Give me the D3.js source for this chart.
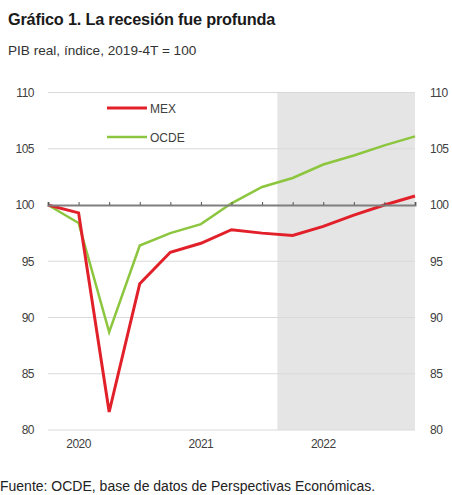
<!DOCTYPE html>
<html><head><meta charset="utf-8">
<script src="https://cdn.jsdelivr.net/npm/d3@7"></script>
<style>
html,body{margin:0;padding:0;background:#fff;}
svg{display:block;}
</style></head>
<body>
<script>
const quarters = ["2019T4","2020T1","2020T2","2020T3","2020T4","2021T1","2021T2","2021T3","2021T4","2022T1","2022T2","2022T3","2022T4"];
const mex  = [100, 99.3, 81.6, 93.0, 95.8, 96.6, 97.8, 97.5, 97.3, 98.1, 99.1, 100.0, 100.8];
const ocde = [100, 98.4, 88.7, 96.4, 97.5, 98.3, 100.15, 101.6, 102.4, 103.6, 104.4, 105.3, 106.1];
const yTicks = [80, 85, 90, 95, 100, 105, 110];
const yearLabels = [{label:"2020", q:"2020T1"},{label:"2021", q:"2021T1"},{label:"2022", q:"2022T1"}];
const projStart = 7.5; // projection shading starts between 2021T3 and 2021T4
const seriesNames = ["MEX","OCDE"];
const colors = {MEX:"#e2202a", OCDE:"#8cc63e"};

const W=452, H=495;
const svg = d3.select("body").append("svg").attr("width",W).attr("height",H);
const pL=48, pR=415, pT=92.5, pB=430;

const x = d3.scaleLinear().domain([0, quarters.length-1]).range([pL,pR]);
const y = d3.scaleLinear().domain([80,110]).range([pB,pT]);

const fontTxt = "'Liberation Sans',Arial,sans-serif";
// title
svg.append("text").attr("x",8).attr("y",25)
  .attr("font-family",fontTxt).attr("font-weight","bold").attr("font-size",16.3).attr("fill","#1a1a1a")
  .attr("letter-spacing","-0.2")
  .text("Gráfico 1. La recesión fue profunda");
svg.append("text").attr("x",8).attr("y",55)
  .attr("font-family",fontTxt).attr("font-size",13.6).attr("fill","#333")
  .text("PIB real, índice, 2019-4T = 100");

// shading
svg.append("rect").attr("x",x(projStart)).attr("y",pT)
  .attr("width",x(quarters.length-1)-x(projStart)).attr("height",pB-pT)
  .attr("fill","#e5e5e5");

// gridlines
svg.append("g").selectAll("line").data(yTicks.filter(d=>d!==100)).join("line")
  .attr("x1",pL).attr("x2",pR).attr("y1",d=>y(d)).attr("y2",d=>y(d))
  .attr("stroke","#d9d9d9").attr("stroke-width",1);

// left and right axes (labels only)
const fontAx = "'Liberation Sans',Arial,sans-serif";
const yl = svg.append("g").attr("transform",`translate(${pL},0)`)
  .call(d3.axisLeft(y).tickValues(yTicks).tickSize(0).tickPadding(14));
yl.select(".domain").remove();
yl.selectAll("text").attr("font-family",fontAx).attr("font-size",12).attr("fill","#404040").attr("letter-spacing","-0.5");
const yr = svg.append("g").attr("transform",`translate(${pR},0)`)
  .call(d3.axisRight(y).tickValues(yTicks).tickSize(0).tickPadding(15));
yr.select(".domain").remove();
yr.selectAll("text").attr("font-family",fontAx).attr("font-size",12).attr("fill","#404040").attr("letter-spacing","-0.5");

// lines
const line = d3.line().x((d,i)=>x(i)).y(d=>y(d));
svg.append("path").datum(ocde).attr("d",line).attr("fill","none")
  .attr("stroke",colors.OCDE).attr("stroke-width",2.5).attr("stroke-linejoin","miter");
svg.append("path").datum(mex).attr("d",line).attr("fill","none")
  .attr("stroke",colors.MEX).attr("stroke-width",3).attr("stroke-linejoin","miter");

// x axis at 100
const xa = svg.append("g").attr("transform",`translate(0,${y(100)})`)
  .call(d3.axisTop(x).tickValues(d3.range(quarters.length)).tickSize(3).tickFormat(""));
xa.select(".domain").attr("stroke","#7f7f7f").attr("stroke-width",2);
xa.selectAll(".tick line").attr("stroke","#555").attr("stroke-width",1);

// year labels
svg.append("g").selectAll("text").data(yearLabels).join("text")
  .attr("x",d=>x(quarters.indexOf(d.q))).attr("y",448)
  .attr("text-anchor","middle").attr("font-family",fontAx).attr("font-size",12)
  .attr("fill","#404040").attr("letter-spacing","-0.5").text(d=>d.label);

// legend
const lg = svg.append("g");
seriesNames.forEach((n,i)=>{
  const ly = 108 + i*29;
  lg.append("line").attr("x1",107).attr("x2",147).attr("y1",ly).attr("y2",ly)
    .attr("stroke",colors[n]).attr("stroke-width",n==="MEX"?3:2.5);
  lg.append("text").attr("x",150).attr("y",ly+4.5).attr("font-family",fontAx)
    .attr("font-size",12).attr("fill","#404040").text(n);
});

// source
svg.append("text").attr("x",0).attr("y",491)
  .attr("font-family",fontTxt).attr("font-size",14).attr("fill","#222")
  .text("Fuente: OCDE, base de datos de Perspectivas Económicas.");
</script>
</body></html>
